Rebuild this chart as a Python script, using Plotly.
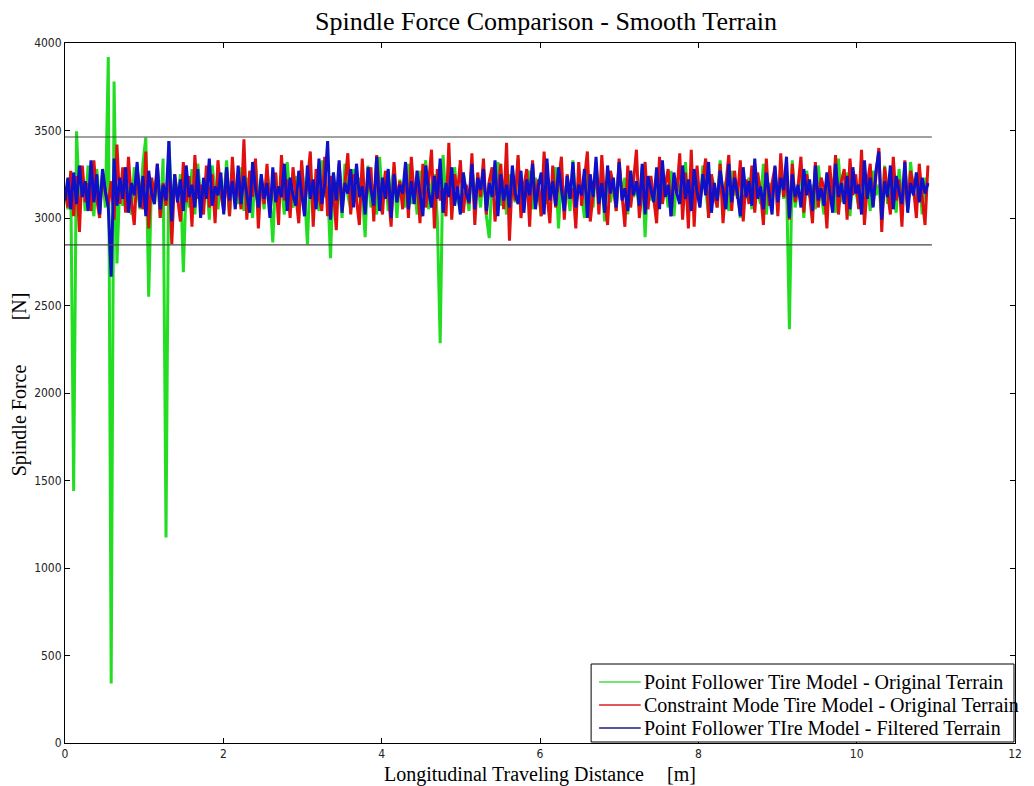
import numpy as np
import plotly.graph_objects as go

# Sampled along the traveled path: 300 samples from 0 to 10.9 m
N_SAMPLES = 300
TRAVEL_END = 10.9
distance = np.linspace(0.0, TRAVEL_END, N_SAMPLES)

# Spindle force [N] - Point Follower tire model on the original terrain
pf_original = [
    3150, 3050, 3220, 1440, 3495, 3100, 3260, 3040, 3300, 3120, 3010, 3280, 3090, 3240, 3060, 3920, 340, 3780, 2740, 3200,
    3070, 3250, 3130, 3020, 3290, 3180, 3050, 3310, 3460, 2550, 3230, 3080, 3270, 3000, 3340, 1175, 3440, 3060, 3210, 3110,
    3250, 2690, 3190, 3060, 3280, 3020, 3310, 3130, 3070, 3240, 2990, 3300, 3150, 3050, 3220, 3100, 3330, 3010, 3260, 3140,
    3080, 3290, 3040, 3230, 3160, 3000, 3310, 3110, 3200, 3050, 3270, 3130, 2860, 3250, 3070, 3190, 3020, 3320, 3120, 3060,
    3240, 3010, 3300, 3150, 2850, 3270, 3090, 3200, 3040, 3330, 3120, 3180, 2770, 3260, 3070, 3220, 3000, 3310, 3130, 3050,
    3280, 3090, 3230, 3150, 2890, 3300, 3060, 3190, 3020, 3350, 3110, 3250, 3040, 3170, 3290, 3000, 3220, 3130, 3060, 3310,
    3080, 3200, 3020, 3270, 3140, 3330, 3050, 3190, 3250, 3000, 2285, 3360, 3100, 3230, 3060, 3290, 3120, 3030, 3260, 3150,
    3040, 3300, 3110, 3210, 3060, 3280, 3010, 2885, 3240, 3130, 3320, 3070, 3190, 3020, 3250, 3150, 3090, 3340, 3030, 3200,
    3120, 3270, 3050, 3230, 3160, 3010, 3310, 3080, 3200, 3140, 3290, 2940, 3250, 3100, 3180, 3040, 3330, 3070, 3220, 3130,
    3000, 3280, 3150, 3060, 3320, 3110, 3210, 2980, 3260, 3090, 3190, 3040, 3300, 3140, 3230, 3020, 3270, 3120, 3180, 3050,
    3290, 2890, 3240, 3100, 3170, 3030, 3310, 3130, 3200, 3060, 3270, 3010, 3230, 3150, 3080, 3320, 3040, 3190, 3120, 3250,
    3070, 3300, 3140, 3020, 3240, 3180, 3060, 3330, 3100, 3210, 3040, 3270, 3130, 3190, 3000, 3260, 3110, 3230, 3050, 3290,
    3150, 3080, 3310, 3020, 3200, 3130, 3260, 3040, 3290, 3110, 3220, 2365, 3330, 3060, 3180, 3240, 3000, 3270, 3120, 3190,
    3050, 3300, 3140, 3020, 3250, 3110, 3200, 3030, 3340, 3090, 3180, 3260, 3010, 3230, 3150, 3070, 3310, 3120, 3210, 3040,
    3270, 3130, 3190, 3000, 3300, 3080, 3240, 3160, 3030, 3280, 3110, 3210, 3050, 3320, 3140, 3070, 3250, 3020, 3230, 3180,
]

# Spindle force [N] - Constraint Mode tire model on the original terrain
cm_original = [
    3180, 3060, 3270, 3010, 3240, 2920, 3300, 3090, 3200, 3040, 3330, 3110, 3000, 3260, 3150, 3070, 3210, 2990, 3420, 3080,
    3290, 3030, 3350, 3100, 2960, 3280, 3160, 3050, 3380, 2940, 3230, 3120, 3310, 3000, 3200, 3070, 3340, 2850, 3250, 3130,
    2980, 3320, 3090, 3240, 2950, 3360, 3110, 3190, 3020, 3300, 3060, 3250, 2970, 3330, 3140, 3040, 3280, 3010, 3350, 3100,
    3200, 3050, 3450, 2990, 3270, 3120, 3340, 2940, 3230, 3080, 3310, 3030, 3190, 3260, 2960, 3360, 3100, 3220, 3000, 3290,
    3130, 2970, 3330, 3060, 3210, 3380, 2950, 3280, 3120, 3040, 3350, 3010, 3240, 3160, 2930, 3310, 3080, 3200, 3370, 3020,
    3250, 3110, 2960, 3340, 3070, 3190, 3290, 2980, 3360, 3130, 3020, 3270, 3150, 2950, 3320, 3090, 3210, 3050, 3300, 3000,
    3350, 3120, 3230, 2970, 3310, 3060, 3200, 3390, 2940, 3280, 3100, 3170, 3010, 3430, 2990, 3250, 3140, 3330, 3030, 3190,
    3080, 3370, 2960, 3260, 3120, 3340, 3020, 3210, 3290, 2980, 3150, 3310, 3050, 3430, 2870, 3240, 3100, 3360, 3000, 3180,
    3280, 2950, 3330, 3090, 3220, 3010, 3380, 3140, 2970, 3300, 3060, 3200, 3350, 2990, 3250, 3110, 3170, 2940, 3320, 3070,
    3230, 3380, 2980, 3150, 3290, 3020, 3360, 3100, 2960, 3270, 3190, 3040, 3340, 3130, 2950, 3300, 3060, 3210, 3390, 3000,
    3160, 3320, 3050, 3240, 3110, 2970, 3350, 3080, 3190, 3280, 3010, 3230, 3140, 3370, 2990, 3260, 2940, 3390, 2950, 3300,
    3090, 3210, 3340, 3000, 3250, 3130, 3060, 3310, 2970, 3190, 3360, 3040, 3270, 3110, 3330, 2980, 3220, 3080, 3300, 3030,
    3260, 3150, 2960, 3340, 3070, 3200, 3290, 3010, 3370, 3120, 3240, 2990, 3310, 3090, 3180, 3350, 3030, 3250, 3140, 2970,
    3320, 3060, 3230, 3170, 2940, 3300, 3100, 3360, 3020, 3210, 3280, 2990, 3340, 3130, 3250, 3050, 3390, 2960, 3190, 3310,
    3070, 3240, 3400, 2920, 3290, 3150, 3020, 3350, 3100, 3220, 2950, 3330, 3060, 3270, 3180, 3000, 3310, 3120, 2960, 3300,
]

# Spindle force [N] - Point Follower tire model on the filtered terrain
pf_filtered = [
    3100, 3230, 3050, 3260, 3080, 3300, 3120, 3210, 3040, 3330, 3090, 3250, 3020, 3280, 3150, 3060, 2665, 3340, 3070, 3230,
    3110, 3290, 3030, 3200, 3130, 3320, 3060, 3240, 3010, 3270, 3140, 3080, 3310, 3050, 3190, 3100, 3440, 2980, 3250, 3090,
    3220, 3040, 3300, 3120, 3190, 3060, 3280, 3000, 3230, 3110, 3340, 3070, 3180, 3130, 3260, 3020, 3290, 3100, 3210, 3050,
    3300, 3080, 3240, 3140, 3030, 3320, 3170, 3060, 3250, 3110, 3200, 3000, 3290, 3090, 3180, 3120, 3310, 3040, 3230, 3130,
    3070, 3270, 3150, 3010, 3300, 3110, 3220, 3050, 3340, 3080, 3190, 3440, 2990, 3260, 3100, 3330, 3030, 3200, 3140, 3280,
    3060, 3310, 3120, 3180, 3020, 3290, 3160, 3070, 3350, 3040, 3230, 3110, 3280, 3000, 3250, 3090, 3190, 3140, 3320, 3050,
    3210, 3080, 3270, 3130, 3010, 3300, 3150, 3060, 3240, 3110, 3340, 3030, 3200, 3120, 3290, 3070, 3180, 3020, 3260, 3140,
    3090, 3310, 3050, 3230, 3160, 3280, 3040, 3200, 3120, 3330, 3010, 3250, 3100, 3190, 3060, 3300, 3140, 3080, 3270, 3030,
    3220, 3130, 3310, 3050, 3180, 3260, 3020, 3340, 3100, 3210, 3070, 3290, 3150, 3040, 3240, 3110, 3320, 3060, 3190, 3130,
    3280, 3000, 3250, 3120, 3350, 3080, 3200, 3030, 3300, 3140, 3230, 3060, 3320, 3100, 3170, 3040, 3270, 3130, 3210, 3070,
    3310, 3020, 3240, 3160, 3090, 3290, 3050, 3330, 3120, 3190, 3010, 3260, 3140, 3080, 3300, 3110, 3220, 3040, 3280, 3150,
    3060, 3250, 3130, 3320, 3030, 3200, 3100, 3270, 3170, 3050, 3310, 3090, 3230, 3140, 3010, 3290, 3120, 3210, 3070, 3340,
    3110, 3180, 3050, 3260, 3140, 3020, 3300, 3090, 3230, 3160, 3350, 3000, 3250, 3120, 3190, 3060, 3280, 3130, 3220, 3040,
    3300, 3100, 3170, 3070, 3260, 3150, 3030, 3310, 3120, 3200, 3080, 3240, 3050, 3290, 3140, 3190, 3020, 3330, 3110, 3230,
    3060, 3270, 3380, 2990, 3210, 3120, 3300, 3050, 3240, 3150, 3080, 3320, 3030, 3200, 3130, 3260, 3090, 3230, 3140, 3200,
]

# +/-10 % band around the mean spindle force
BAND_UPPER = 3463
BAND_LOWER = 2846
BAND_END = 10.95

# (legend label, values, plot colour, legend key colour)
SERIES = [
    ("Point Follower Tire Model - Original Terrain", pf_original, "#22dd22", "#44dd44"),
    ("Constraint Mode Tire Model - Original Terrain", cm_original, "#e01010", "#dd2020"),
    ("Point Follower TIre Model - Filtered Terrain", pf_filtered, "#1010c8", "#1c1c80"),
]

SERIF = "Liberation Serif, Times New Roman, serif"
TICK_FONT = "Liberation Sans Narrow, DejaVu Sans Condensed, Arial Narrow, sans-serif"

# Plot-area geometry in pixels, used to place the boxed legend and labels
PLOT_L, PLOT_R, PLOT_T, PLOT_B = 65, 1022, 43, 743


def px_x(p):
    return (p - PLOT_L) / (PLOT_R - PLOT_L)


def px_y(p):
    return (PLOT_B - p) / (PLOT_B - PLOT_T)


fig = go.Figure()

for name, values, color, _ in SERIES:
    fig.add_trace(go.Scatter(
        x=distance, y=values, mode="lines", name=name, showlegend=False,
        line=dict(color=color, width=3),
    ))

for level in (BAND_UPPER, BAND_LOWER):
    fig.add_trace(go.Scatter(
        x=[0, BAND_END], y=[level, level], mode="lines", showlegend=False,
        line=dict(color="#444444", width=1.2), hoverinfo="skip",
    ))

axis_common = dict(
    showline=True, linecolor="black", linewidth=1, mirror="ticks",
    ticks="inside", ticklen=5, tickcolor="black", showgrid=False, zeroline=False,
    tickfont=dict(family=TICK_FONT, size=12, color="#222222"),
)

# Boxed legend in the lower right corner
shapes = [dict(
    type="rect", xref="paper", yref="paper", layer="above",
    x0=px_x(595), x1=px_x(1021), y0=px_y(742), y1=px_y(664),
    fillcolor="white", line=dict(color="black", width=1),
)]
annotations = []
for row, (name, _, _, key_color) in enumerate(SERIES):
    yc = px_y(682 + 23 * row)
    shapes.append(dict(
        type="line", xref="paper", yref="paper", layer="above",
        x0=px_x(603), x1=px_x(645), y0=yc, y1=yc,
        line=dict(color=key_color, width=1.5),
    ))
    annotations.append(dict(
        text=name, xref="paper", yref="paper", x=px_x(646), y=yc,
        xanchor="left", yanchor="middle", showarrow=False,
        font=dict(family=SERIF, size=20, color="black"),
    ))

annotations += [
    dict(text="Spindle Force Comparison - Smooth Terrain", xref="paper", yref="paper",
         x=px_x(550), y=px_y(21), xanchor="center", yanchor="middle", showarrow=False,
         font=dict(family=SERIF, size=26, color="black")),
    dict(text="Longitudinal Traveling Distance", xref="paper", yref="paper",
         x=px_x(517.5), y=px_y(774), xanchor="center", yanchor="middle", showarrow=False,
         font=dict(family=SERIF, size=20, color="black")),
    dict(text="[m]", xref="paper", yref="paper",
         x=px_x(686), y=px_y(774), xanchor="center", yanchor="middle", showarrow=False,
         font=dict(family=SERIF, size=20, color="black")),
    dict(text="Spindle Force", xref="paper", yref="paper", textangle=-90,
         x=px_x(19), y=px_y(420), xanchor="center", yanchor="middle", showarrow=False,
         font=dict(family=SERIF, size=20, color="black")),
    dict(text="[N]", xref="paper", yref="paper", textangle=-90,
         x=px_x(19), y=px_y(306), xanchor="center", yanchor="middle", showarrow=False,
         font=dict(family=SERIF, size=20, color="black")),
]

fig.update_layout(
    width=1034, height=786, autosize=False,
    margin=dict(l=PLOT_L, r=1034 - PLOT_R, t=PLOT_T, b=786 - PLOT_B),
    paper_bgcolor="white", plot_bgcolor="white",
    xaxis=dict(range=[0, 12], tickvals=[0, 2, 4, 6, 8, 10, 12], **axis_common),
    yaxis=dict(range=[0, 4000], tickvals=[0, 500, 1000, 1500, 2000, 2500, 3000, 3500, 4000],
               **axis_common),
    showlegend=False,
    shapes=shapes,
    annotations=annotations,
)

fig.write_html("out.html")
